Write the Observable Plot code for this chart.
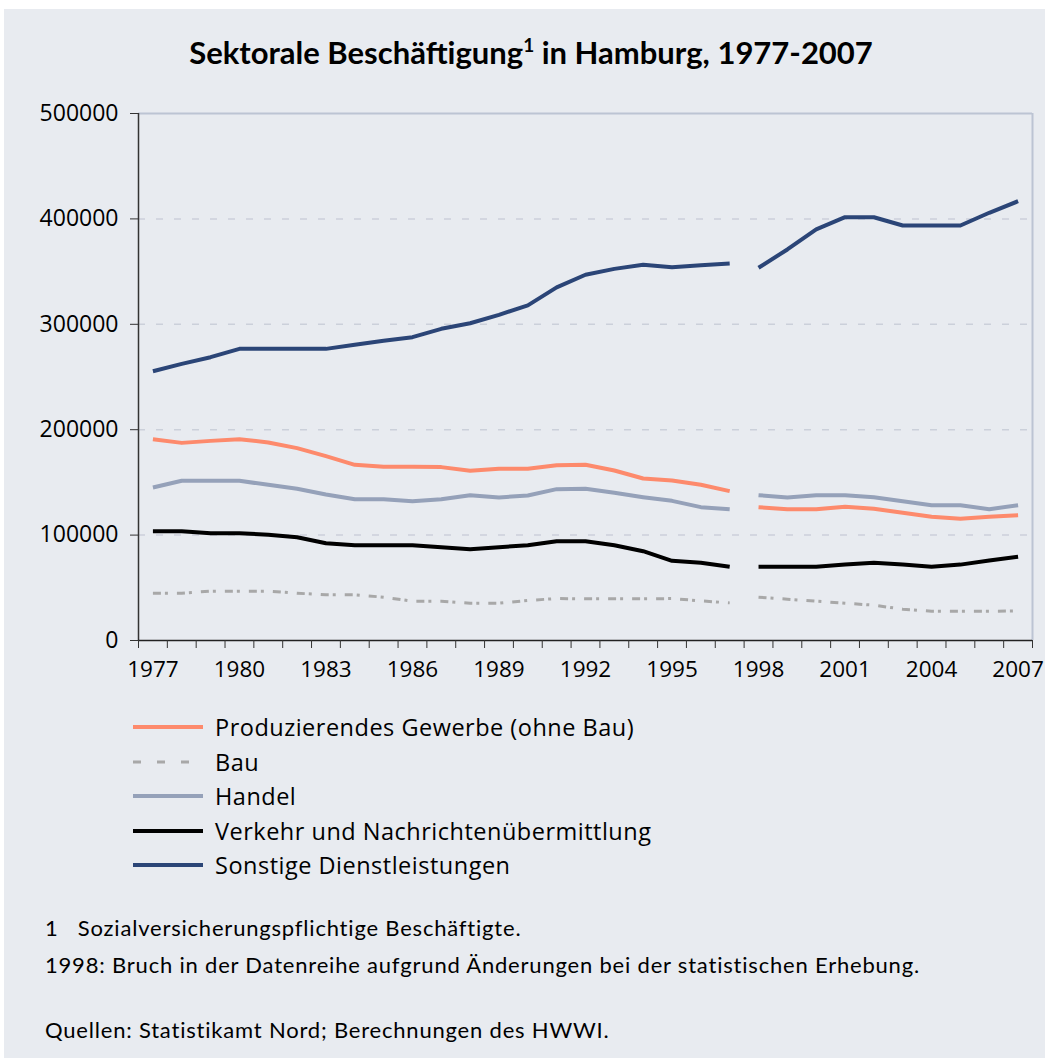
<!DOCTYPE html>
<html><head><meta charset="utf-8">
<script src="https://cdn.jsdelivr.net/npm/d3@7"></script>
<script src="https://cdn.jsdelivr.net/npm/@observablehq/plot@0.6"></script>
<style>
body{margin:0;background:#fff;font-family:Lato,"Noto Sans",sans-serif;color:#000;}
#panel{position:absolute;left:4px;top:9px;width:1041px;height:1049px;background:#e8ebf0;}
#title{position:absolute;left:0;top:29px;width:1062px;text-align:center;font-weight:bold;font-size:31px;line-height:46px;}
#title sup{font-size:19px;vertical-align:0;position:relative;top:-12px;}
#chart{position:absolute;left:0;top:90px;}
.lrow{position:absolute;left:133px;height:34px;display:flex;align-items:center;font-family:"Open Sans",sans-serif;font-size:23.5px;letter-spacing:0.5px;white-space:nowrap;}
.lrow svg{margin-right:12px;}
.note{position:absolute;left:45px;height:30px;line-height:30px;font-size:22px;letter-spacing:0.8px;white-space:pre;}
</style></head><body>
<div id="panel"></div>
<div id="title">Sektorale Beschäftigung<sup>1</sup> in Hamburg, 1977-2007</div>
<div id="chart"></div>
<div id="legend"></div>
<div class="note" style="top:913px">1   Sozialversicherungspflichtige Beschäftigte.</div>
<div class="note" style="top:950px">1998: Bruch in der Datenreihe aufgrund Änderungen bei der statistischen Erhebung.</div>
<div class="note" style="top:1015px">Quellen: Statistikamt Nord; Berechnungen des HWWI.</div>
<script>
const years = [1977,1978,1979,1980,1981,1982,1983,1984,1985,1986,1987,1988,1989,1990,1991,1992,1993,1994,1995,1996,1997,1998,1999,2000,2001,2002,2003,2004,2005,2006,2007];
const labelYears = [1977,1980,1983,1986,1989,1992,1995,1998,2001,2004,2007];
const yTicks = [0,100000,200000,300000,400000,500000];
const breakYear = 1998;

const seriesNames = ["Produzierendes Gewerbe (ohne Bau)","Bau","Handel","Verkehr und Nachrichtenübermittlung","Sonstige Dienstleistungen"];
const produzierendes = [191000,187500,189400,191000,187900,182500,174900,166700,164800,164800,164500,161000,162900,162900,166300,166700,161300,153700,151800,147700,141700,126500,124600,124600,126800,125000,121200,117400,115500,117400,118900];
const bau = [44900,44900,46800,46800,46800,44900,43300,43300,41100,37300,37300,35400,35400,38000,39800,39500,39500,39500,39800,37600,35700,41100,39200,37300,35400,33500,29700,27800,27800,27800,28000];
const handel = [145200,151500,151500,151500,147700,143900,138500,134100,134100,132200,134100,137900,135700,137600,143600,143900,140100,136000,132500,126500,124600,137900,135700,137900,137900,136000,132200,128400,128400,124600,128400];
const verkehr = [103700,103700,101800,101800,100300,98000,92300,90400,90400,90400,88500,86600,88500,90400,94200,94200,90400,84700,75600,73700,69900,69900,69900,69900,72100,73700,72000,69900,72000,75900,79400];
const sonstige = [255500,262500,268800,276700,276700,276700,276700,280500,284300,287800,295700,301000,309000,318000,335000,347000,352600,356400,354200,356000,357700,353600,371000,390000,401600,401600,393700,393700,393700,405800,416800];

const colors = ["#fd8a6c","#a8a8a8","#95a1b9","#000000","#2b4577"];
const widths = [4,3,4,4,4];
const dashes = [null,"8,4,3,9",null,null,null];
const legendDashes = [null,"8,16",null,null,null];

const allValues = [produzierendes,bau,handel,verkehr,sonstige];
const rows = [];
seriesNames.forEach((s,si)=>{
  allValues[si].forEach((v,i)=>{
    rows.push({series:s, year:years[i], value:v, seg: years[i] >= breakYear ? "b" : "a"});
  });
});

const boundaries = years.map(y=>y-0.5).concat([years[years.length-1]+0.5]);

const lineMarks = [1,0,2,3,4].map(si => Plot.line(rows.filter(d=>d.series===seriesNames[si]), {
  x:"year", y:"value", z:"seg", stroke: colors[si], strokeWidth: widths[si],
  strokeDasharray: dashes[si] || undefined, strokeLinejoin:"round", strokeLinecap:"butt"
}));

const axisFont = "'Open Sans', Lato, sans-serif";
const chart = Plot.plot({
  width:1045, height:620,
  marginLeft:138, marginRight:13, marginTop:23, marginBottom:70,
  style:{background:"transparent", fontFamily:axisFont, fontSize:"22.5px", color:"#000", overflow:"visible"},
  x:{type:"linear", domain:[1976.5, 2007.5]},
  y:{domain:[0,500000]},
  marks:[
    Plot.ruleY(yTicks.slice(1,5), {stroke:"#cbd0da", strokeWidth:1.5, strokeDasharray:"7,11"}),
    Plot.ruleY([500000], {stroke:"#bcc4d3", strokeWidth:2}),
    Plot.ruleX([2007.5], {stroke:"#bcc4d3", strokeWidth:2}),
    ...lineMarks,
    Plot.ruleX([1976.5], {stroke:"#333", strokeWidth:1.5}),
    Plot.ruleY([0], {stroke:"#222", strokeWidth:1.5}),
    Plot.axisY({ticks:yTicks, tickSize:8, tickPadding:12, tickFormat:d=>String(d), label:null, stroke:"#333", fill:"#000", fontSize:23}),
    Plot.axisX({ticks:boundaries, tickSize:8, tickFormat:()=>"", label:null, stroke:"#333"}),
    Plot.axisX({ticks:labelYears, tickSize:0, tickPadding:21, tickFormat:d=>String(d), label:null, fill:"#000", fontSize:22.5})
  ]
});
document.getElementById("chart").appendChild(chart);

const legend = document.getElementById("legend");
const centers = [727,761.5,796,830.5,865];
seriesNames.forEach((s,i)=>{
  const row = document.createElement("div");
  row.className = "lrow";
  row.style.top = (centers[i]-17)+"px";
  const dash = legendDashes[i] ? `stroke-dasharray="${legendDashes[i]}"` : "";
  row.innerHTML = `<svg width="70" height="10"><line x1="0" x2="70" y1="5" y2="5" stroke="${colors[i]}" stroke-width="${widths[i]}" ${dash}/></svg><span>${s}</span>`;
  legend.appendChild(row);
});
</script>
</body></html>
